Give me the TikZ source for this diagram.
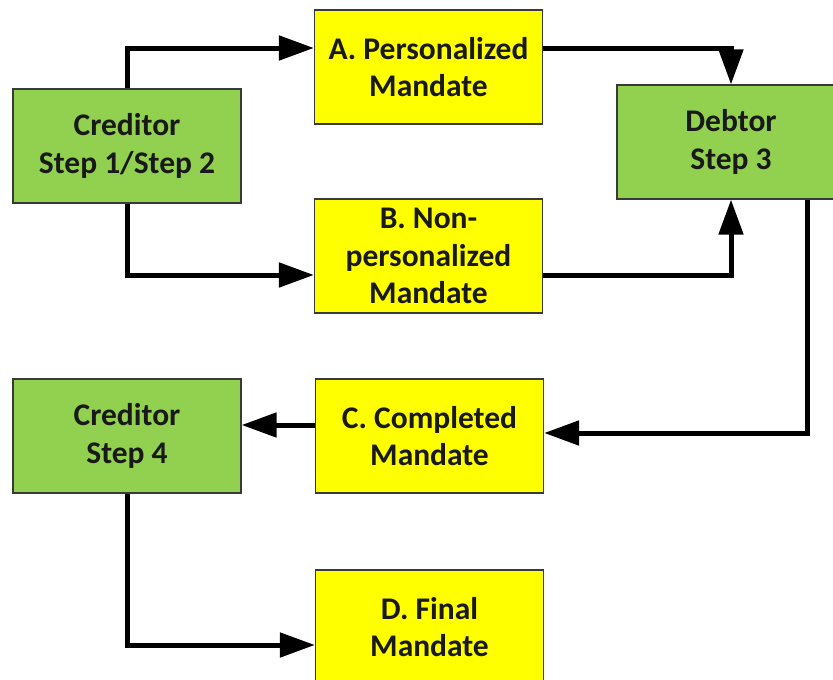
\documentclass[tikz,border=0pt]{standalone}
\usepackage{fontspec}
\setmainfont{Carlito}
\usetikzlibrary{arrows.meta,positioning}
\definecolor{boxgreen}{HTML}{92D050}
\definecolor{boxyellow}{HTML}{FFFF00}
\definecolor{boxline}{HTML}{3A3A3A}
\tikzset{
  basebox/.style={draw=boxline, line width=1.2pt, minimum width=228pt, minimum height=114pt, inner sep=0pt,
    align=center, font=\fontsize{31.5}{37.5}\selectfont\bfseries, text=black!90},
  greenbox/.style={basebox, fill=boxgreen},
  yellowbox/.style={basebox, fill=boxyellow},
  conn/.style={line width=5pt, black, -{Triangle[length=35pt,width=24pt]}}
}
\begin{document}
\begin{tikzpicture}[x=1pt,y=-1pt]
\useasboundingbox (0,0) rectangle (833,680);
\fill[white] (0,0) rectangle (833,680);
\node[greenbox]  (cr1) at (127,146)   {Creditor\\Step 1/Step 2};
\node[yellowbox] (A)   at (428.5,67)  {A. Personalized\\Mandate};
\node[yellowbox] (B)   at (428.5,256) {B. Non-\\personalized\\Mandate};
\node[greenbox]  (deb) at (731,142)   {Debtor\\Step 3};
\node[greenbox]  (cr4) at (127,436)   {Creditor\\Step 4};
\node[yellowbox] (C)   at (429.5,436) {C. Completed\\Mandate};
\node[yellowbox] (D)   at (429.5,627) {D. Final\\Mandate};

\draw[conn] (cr1.north) |- ([yshift=19pt]A.west);
\draw[conn] ([yshift=19pt]A.east) -| (deb.north);
\draw[conn] (cr1.south) |- ([yshift=-19pt]B.west);
\draw[conn] ([yshift=-19pt]B.east) -| (deb.south);
\draw[conn] ([xshift=76pt]deb.south) |- ([yshift=3pt]C.east);
\draw[conn] ([yshift=11pt]C.west) -- ([yshift=11pt]cr4.east);
\draw[conn] (cr4.south) |- ([yshift=-18pt]D.west);
\end{tikzpicture}
\end{document}
